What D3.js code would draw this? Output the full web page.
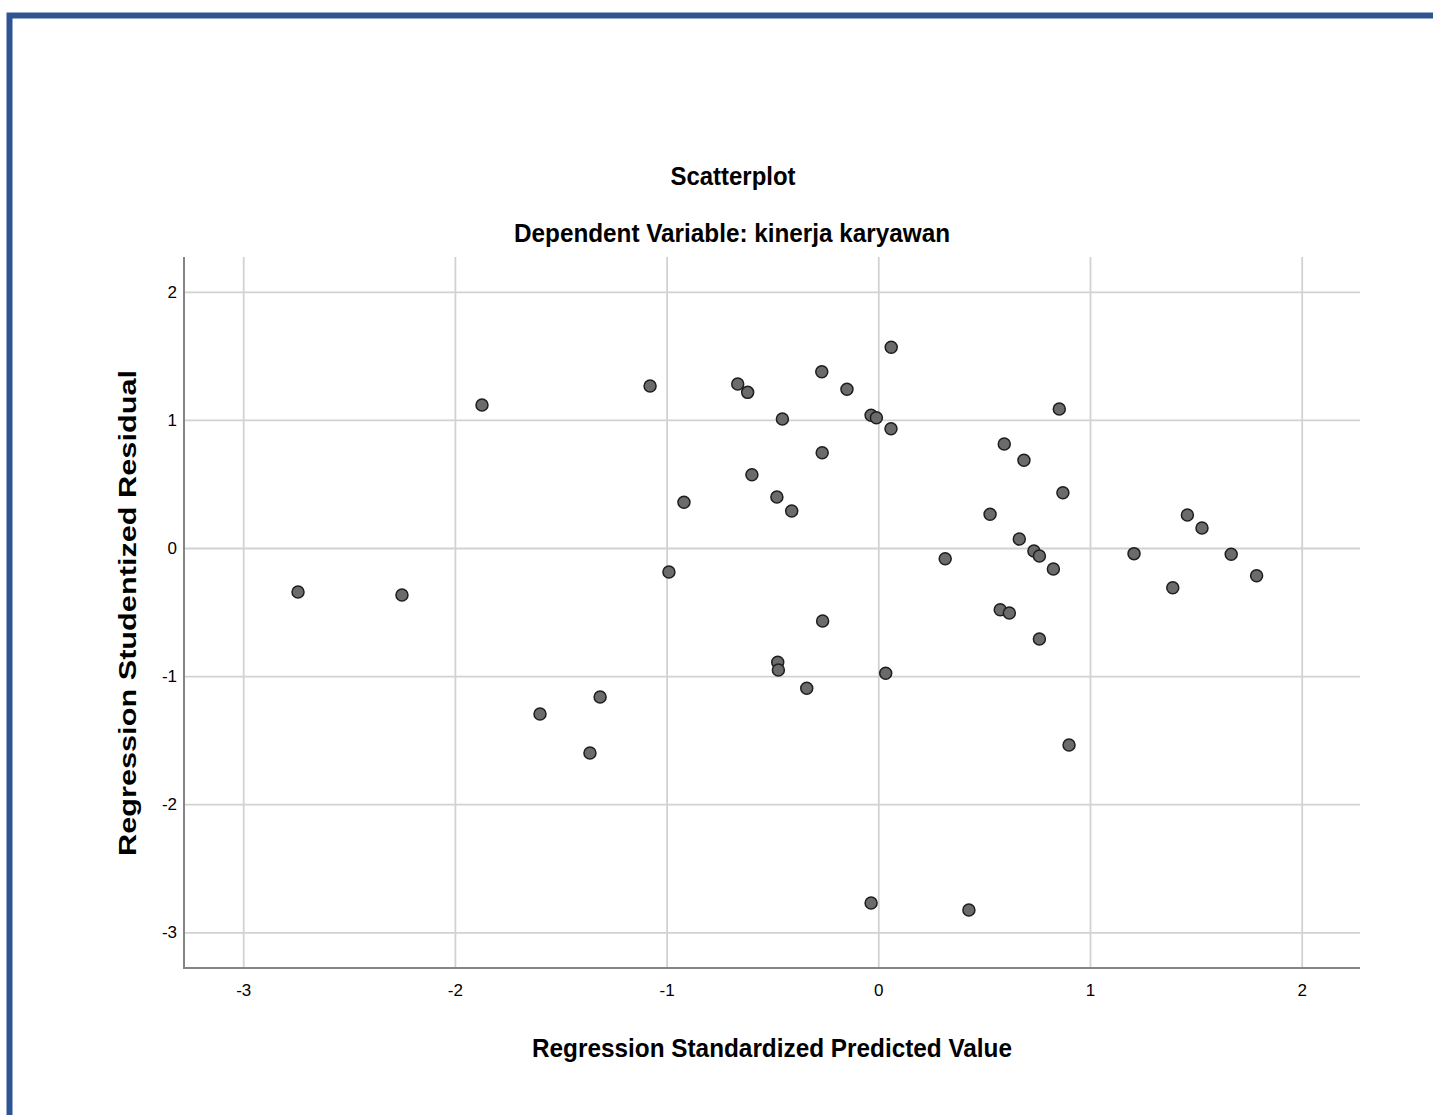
<!DOCTYPE html>
<html>
<head>
<meta charset="utf-8">
<script src="https://cdn.jsdelivr.net/npm/d3@7"></script>
<style>
  body { margin: 0; background: #fff; }
  svg text { font-family: "Liberation Sans", Arial, sans-serif; fill: #000; }
</style>
</head>
<body>
<svg id="chart" width="1433" height="1115"></svg>
<script>
// values
var predicted = [
  -2.741, -2.250, -1.872, -1.598, -1.314, -1.362, -1.078, -0.989, -0.918, -0.664,
  -0.617, -0.597, -0.453, -0.479, -0.409, -0.475, -0.472, -0.338, -0.267, -0.148,
  -0.265, -0.263, -0.034, -0.009, 0.061, 0.060, 0.035, -0.034, 0.428, 0.316,
  0.595, 0.688, 0.872, 0.528, 0.855, 0.666, 0.735, 0.761, 0.827, 0.576,
  0.619, 0.761, 0.901, 1.208, 1.391, 1.460, 1.529, 1.667, 1.787
];
var residual = [
  -0.343, -0.367, 1.116, -1.296, -1.163, -1.600, 1.265, -0.187, 0.357, 1.280,
  1.215, 0.572, 1.007, 0.398, 0.289, -0.892, -0.952, -1.095, 1.376, 1.239,
  0.744, -0.570, 1.036, 1.017, 1.567, 0.931, -0.978, -2.771, -2.826, -0.084,
  0.812, 0.685, 0.432, 0.263, 1.085, 0.070, -0.023, -0.062, -0.164, -0.482,
  -0.507, -0.710, -1.538, -0.044, -0.310, 0.258, 0.156, -0.049, -0.216
];
var xTicks = [-3, -2, -1, 0, 1, 2];
var yTicks = [2, 1, 0, -1, -2, -3];

var chartTitle = "Scatterplot";
var chartSubtitle = "Dependent Variable: kinerja karyawan";
var xTitle = "Regression Standardized Predicted Value";
var yTitle = "Regression Studentized Residual";

var svg = d3.select("#chart");
var plotLeft = 184, plotRight = 1360, plotTop = 257, plotBottom = 968;

var x = d3.scaleLinear().domain([-3.2796, 2.2754]).range([plotLeft, plotRight]);
var y = d3.scaleLinear().domain([-3.2787, 2.2717]).range([plotBottom, plotTop]);

// blue page edge
svg.append("path")
    .attr("d", "M9.5,1115 V15.5 H1433")
    .attr("fill", "none")
    .attr("stroke", "#2F5493")
    .attr("stroke-width", 6);

// grid + tick labels
var fmt = function(d) { return d < 0 ? "-" + Math.abs(d) : d; };
var xAxis = svg.append("g")
    .attr("transform", "translate(0," + plotBottom + ")")
    .call(d3.axisBottom(x).tickValues(xTicks).tickSize(-(plotBottom - plotTop)).tickPadding(16)
      .tickFormat(fmt));
var yAxis = svg.append("g")
    .attr("transform", "translate(" + plotLeft + ",0)")
    .call(d3.axisLeft(y).tickValues(yTicks).tickSize(-(plotRight - plotLeft)).tickPadding(7)
      .tickFormat(fmt));

[xAxis, yAxis].forEach(function(g) {
  g.select(".domain").remove();
  g.selectAll(".tick line").attr("stroke", "#d2d2d2").attr("stroke-width", 1.8);
  g.selectAll(".tick text")
      .style("font-size", "17px")
      .style("font-family", "'Liberation Sans Narrow', 'Liberation Sans', Arial, sans-serif")
      .attr("fill", "#111");
});

// axis lines
svg.append("line").attr("x1", plotLeft).attr("x2", plotLeft).attr("y1", plotTop).attr("y2", plotBottom + 1)
    .attr("stroke", "#858585").attr("stroke-width", 2);
svg.append("line").attr("x1", plotLeft - 1).attr("x2", plotRight).attr("y1", plotBottom).attr("y2", plotBottom)
    .attr("stroke", "#858585").attr("stroke-width", 2);

// points
var pts = predicted.map(function(v, i) { return { px: v, res: residual[i] }; });
svg.append("g").selectAll("circle")
    .data(pts)
    .enter().append("circle")
      .attr("cx", function(d) { return x(d.px); })
      .attr("cy", function(d) { return y(d.res); })
      .attr("r", 6)
      .attr("fill", "#6b6b6b")
      .attr("stroke", "#1e1e1e")
      .attr("stroke-width", 1.5);

// titles
function addTitle(str, tx, ty, size, len) {
  return svg.append("text").attr("x", tx).attr("y", ty)
    .attr("text-anchor", "middle").style("font-size", size + "px")
    .style("font-weight", "bold")
    .attr("textLength", len).attr("lengthAdjust", "spacingAndGlyphs")
    .text(str);
}
addTitle(chartTitle, 733, 185, 25, 125);
addTitle(chartSubtitle, 732, 242, 25, 436);
addTitle(xTitle, 772, 1057, 25, 480);
svg.append("text")
    .attr("transform", "translate(136,613) rotate(-90)")
    .attr("text-anchor", "middle").style("font-size", "24px").style("font-weight", "bold")
    .attr("textLength", 486).attr("lengthAdjust", "spacingAndGlyphs")
    .text(yTitle);
</script>
</body>
</html>
